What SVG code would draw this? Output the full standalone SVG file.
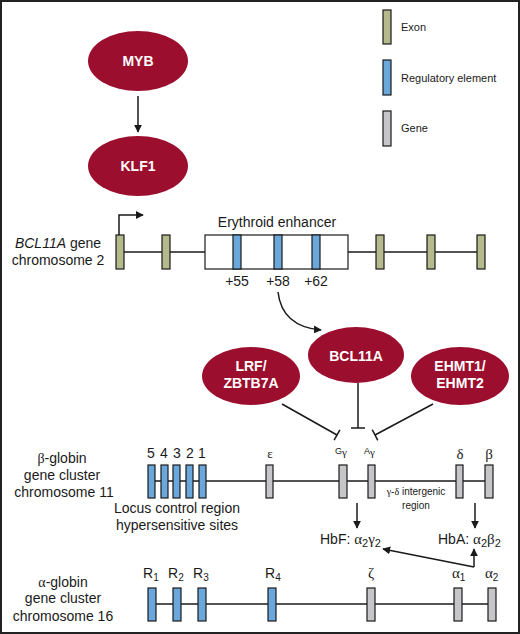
<svg xmlns="http://www.w3.org/2000/svg" width="520" height="634" viewBox="0 0 520 634">
<style>
svg{font-family:"Liberation Sans",Arial,sans-serif;font-size:14px}
text{fill:#1a1a1a}
.leg{font-size:11px}
.node{fill:#9c0e2d}
.nt{fill:#fff;font-weight:bold;font-size:14px;text-anchor:middle}
.ex{fill:#b4ba8b;stroke:#1a1a1a;stroke-width:1.2}
.rg{fill:#6aa8dc;stroke:#1a1a1a;stroke-width:1.2}
.gn{fill:#c6c6c8;stroke:#1a1a1a;stroke-width:1.2}
.ln{stroke:#1a1a1a;stroke-width:1.5;fill:none}
.gr{font-family:"Liberation Serif","Times New Roman",serif}
.c{text-anchor:middle}
</style>
<defs>
<marker id="ah" viewBox="0 0 10 10" refX="9" refY="5" markerWidth="8" markerHeight="8" markerUnits="userSpaceOnUse" orient="auto">
<path d="M0,0 L10,5 L0,10 z" fill="#1a1a1a"/>
</marker>
</defs>
<rect x="1" y="1" width="518" height="632" fill="#fff" stroke="#222" stroke-width="2"/>

<g id="legend">
<rect class="ex" x="383" y="10" width="8" height="34"/>
<text class="leg" x="401" y="31">Exon</text>
<rect class="rg" x="383" y="60" width="8" height="35"/>
<text class="leg" x="401" y="82">Regulatory element</text>
<rect class="gn" x="383" y="111" width="8" height="35"/>
<text class="leg" x="401" y="132">Gene</text>
</g>

<g id="connectors">
<line class="ln" x1="138" y1="96" x2="138" y2="132" marker-end="url(#ah)"/>
<path class="ln" d="M119,235 V215 H143" marker-end="url(#ah)"/>
<path class="ln" d="M278,292 C281,318 298,328 321,330" marker-end="url(#ah)"/>
<line class="ln" x1="282" y1="404" x2="337" y2="435"/>
<line class="ln" x1="334.1" y1="440.2" x2="339.9" y2="429.8"/>
<line class="ln" x1="358" y1="383" x2="358" y2="428"/>
<line class="ln" x1="351" y1="428" x2="365" y2="428"/>
<line class="ln" x1="433" y1="404" x2="375" y2="435"/>
<line class="ln" x1="372.2" y1="429.7" x2="377.8" y2="440.3"/>
<line class="ln" x1="357" y1="503" x2="357" y2="528" marker-end="url(#ah)"/>
<line class="ln" x1="475" y1="503" x2="475" y2="528" marker-end="url(#ah)"/>
<line class="ln" x1="474" y1="567" x2="383" y2="549" marker-end="url(#ah)"/>
<line class="ln" x1="474" y1="567" x2="474" y2="549" marker-end="url(#ah)"/>
</g>

<g id="MYB"><ellipse class="node" cx="138" cy="61" rx="50" ry="30"/><text class="nt" x="138" y="66">MYB</text></g>
<g id="KLF1"><ellipse class="node" cx="138" cy="166" rx="50" ry="30"/><text class="nt" x="138" y="171">KLF1</text></g>
<g id="BCL11A"><ellipse class="node" cx="356" cy="355" rx="48" ry="28"/><text class="nt" x="356" y="361">BCL11A</text></g>
<g id="LRF"><ellipse class="node" cx="251" cy="376" rx="49" ry="29"/><text class="nt" x="251" y="371">LRF/</text><text class="nt" x="251" y="388">ZBTB7A</text></g>
<g id="EHMT"><ellipse class="node" cx="460" cy="376" rx="49" ry="29"/><text class="nt" x="460" y="371">EHMT1/</text><text class="nt" x="460" y="388">EHMT2</text></g>

<g id="bcl11a-gene">
<text class="c" x="58" y="248"><tspan font-style="italic">BCL11A</tspan> gene</text>
<text class="c" x="58" y="265">chromosome 2</text>
<line class="ln" x1="120" y1="252" x2="481" y2="252"/>
<rect class="ex" x="116" y="235" width="8" height="34"/>
<rect class="ex" x="162" y="235" width="8" height="34"/>
<rect x="205" y="235" width="143" height="34" fill="#fff" stroke="#1a1a1a" stroke-width="1.2"/>
<rect class="rg" x="233" y="235" width="8" height="34"/>
<rect class="rg" x="274" y="235" width="8" height="34"/>
<rect class="rg" x="312" y="235" width="8" height="34"/>
<rect class="ex" x="376" y="235" width="8" height="34"/>
<rect class="ex" x="427" y="235" width="8" height="34"/>
<rect class="ex" x="477" y="235" width="8" height="34"/>
<text class="c" x="277" y="227">Erythroid enhancer</text>
<text class="c" x="237" y="286">+55</text>
<text class="c" x="278" y="286">+58</text>
<text class="c" x="316" y="286">+62</text>
</g>

<g id="beta-globin">
<text class="c" x="62" y="463"><tspan class="gr">β</tspan>-globin</text>
<text class="c" x="62" y="480">gene cluster</text>
<text class="c" x="64" y="497">chromosome 11</text>
<line class="ln" x1="151" y1="481" x2="489" y2="481"/>
<rect class="rg" x="148" y="465" width="7" height="33"/>
<rect class="rg" x="161" y="465" width="7" height="33"/>
<rect class="rg" x="173" y="465" width="7" height="33"/>
<rect class="rg" x="186" y="465" width="7" height="33"/>
<rect class="rg" x="199" y="465" width="7" height="33"/>
<rect class="gn" x="266" y="465" width="7" height="33"/>
<rect class="gn" x="339" y="465" width="8" height="33"/>
<rect class="gn" x="368" y="465" width="7" height="33"/>
<rect class="gn" x="456" y="465" width="7" height="33"/>
<rect class="gn" x="485" y="465" width="8" height="33"/>
<text class="c" x="151" y="458">5</text>
<text class="c" x="164" y="458">4</text>
<text class="c" x="177" y="458">3</text>
<text class="c" x="190" y="458">2</text>
<text class="c" x="202" y="458">1</text>
<text class="gr c" x="270" y="458" font-size="13">ε</text>
<text x="335" y="454" font-size="9">G<tspan class="gr" font-size="11" dy="2">γ</tspan></text>
<text x="364" y="454" font-size="9">A<tspan class="gr" font-size="11" dy="2">γ</tspan></text>
<text class="gr c" x="460" y="459" font-size="15">δ</text>
<text class="gr c" x="489" y="459" font-size="15">β</text>
<text class="c" x="416" y="495" font-size="10"><tspan class="gr">γ</tspan>-<tspan class="gr">δ</tspan> intergenic</text>
<text class="c" x="416" y="509" font-size="10">region</text>
<text class="c" x="177" y="513">Locus control region</text>
<text class="c" x="177" y="530">hypersensitive sites</text>
</g>

<g id="hb">
<text x="320" y="544">HbF: <tspan class="gr" font-size="15">α</tspan><tspan font-size="11" dy="3">2</tspan><tspan class="gr" font-size="15" dy="-3">γ</tspan><tspan font-size="11" dy="3">2</tspan></text>
<text x="438" y="544">HbA: <tspan class="gr" font-size="15">α</tspan><tspan font-size="11" dy="3">2</tspan><tspan class="gr" font-size="15" dy="-3">β</tspan><tspan font-size="11" dy="3">2</tspan></text>
</g>

<g id="alpha-globin">
<text class="c" x="63" y="587"><tspan class="gr">α</tspan>-globin</text>
<text class="c" x="63" y="603">gene cluster</text>
<text class="c" x="63" y="621">chromosome 16</text>
<line class="ln" x1="151" y1="604" x2="492" y2="604"/>
<rect class="rg" x="148" y="588" width="8" height="33"/>
<rect class="rg" x="173" y="588" width="8" height="33"/>
<rect class="rg" x="198" y="588" width="8" height="33"/>
<rect class="rg" x="268" y="588" width="8" height="33"/>
<rect class="gn" x="367" y="588" width="8" height="33"/>
<rect class="gn" x="454" y="588" width="8" height="33"/>
<rect class="gn" x="488" y="588" width="8" height="33"/>
<text x="143" y="578">R<tspan font-size="10" dy="3">1</tspan></text>
<text x="168" y="578">R<tspan font-size="10" dy="3">2</tspan></text>
<text x="193" y="578">R<tspan font-size="10" dy="3">3</tspan></text>
<text x="265" y="578">R<tspan font-size="10" dy="3">4</tspan></text>
<text class="gr c" x="371" y="578" font-size="15">ζ</text>
<text x="452" y="578"><tspan class="gr" font-size="15">α</tspan><tspan font-size="10" dy="3">1</tspan></text>
<text x="485" y="578"><tspan class="gr" font-size="15">α</tspan><tspan font-size="10" dy="3">2</tspan></text>
</g>
</svg>
